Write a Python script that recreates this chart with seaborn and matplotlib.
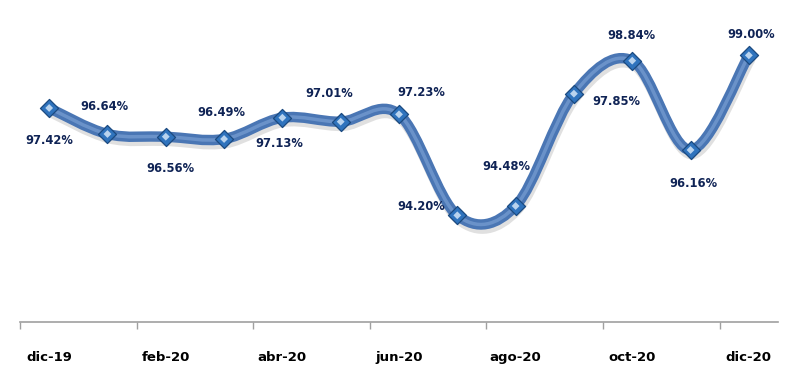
import numpy as np
import pandas as pd
import matplotlib
matplotlib.use("Agg")
import matplotlib.pyplot as plt
import matplotlib.patheffects as pe
from matplotlib.path import Path
from matplotlib.patches import PathPatch
import seaborn as sns

months = ["dic-19", "ene-20", "feb-20", "mar-20", "abr-20", "may-20", "jun-20",
          "jul-20", "ago-20", "sep-20", "oct-20", "nov-20", "dic-20"]
values = [97.42, 96.64, 96.56, 96.49, 97.13, 97.01, 97.23,
          94.20, 94.48, 97.85, 98.84, 96.16, 99.00]
labels = ["97.42%", "96.64%", "96.56%", "96.49%", "97.13%", "97.01%", "97.23%",
          "94.20%", "94.48%", "97.85%", "98.84%", "96.16%", "99.00%"]

sns.set_theme(style="white")
plt.rcParams['font.family'] = ['DejaVu Sans']

df = pd.DataFrame({"idx": np.arange(len(months)), "value": values, "month": months})

fig = plt.figure(figsize=(7.98, 3.76), dpi=100)
ax = fig.add_axes([20/798, 1-322/376, (778-20)/798, (322-22)/376])

# smooth curve (Catmull-Rom as cubic Bezier through the data points)
x = df["idx"].to_numpy(dtype=float)
y = df["value"].to_numpy(dtype=float)
n = len(x)
verts = [(x[0], y[0])]
codes = [Path.MOVETO]
for i in range(n - 1):
    p0 = (x[max(i-1, 0)], y[max(i-1, 0)])
    p1 = (x[i], y[i])
    p2 = (x[i+1], y[i+1])
    p3 = (x[min(i+2, n-1)], y[min(i+2, n-1)])
    c1 = (p1[0] + (p2[0]-p0[0])/6, p1[1] + (p2[1]-p0[1])/6)
    c2 = (p2[0] - (p3[0]-p1[0])/6, p2[1] - (p3[1]-p1[1])/6)
    verts += [c1, c2, p2]
    codes += [Path.CURVE4]*3
path = Path(verts, codes)
patch = PathPatch(path, fill=False, edgecolor="#4a76b4", linewidth=7.5,
                  capstyle="round", joinstyle="round", zorder=2,
                  path_effects=[pe.SimpleLineShadow(offset=(1, -3), shadow_color="#999999", alpha=0.3),
                                pe.Normal()])
ax.add_patch(patch)
patch2 = PathPatch(path, fill=False, edgecolor="#86aadb", linewidth=2.5, alpha=0.55, zorder=2.1)
ax.add_patch(patch2)

sns.scatterplot(data=df, x="idx", y="value", marker="D", s=85, color="#2f73bd",
                edgecolor="#1b4a80", linewidth=0.9, ax=ax, zorder=3, legend=False)
sns.scatterplot(data=df, x="idx", y="value", marker="D", s=16, color="#b9d3ee",
                edgecolor="none", ax=ax, zorder=4, legend=False)

offsets = [(0, -32), (-3, 27), (5, -32), (-3, 27), (-3, -26), (-11, 28), (22, 22),
           (-36, 9), (-9, 39), (42, -8), (-1, 25), (3, -33), (2, 21)]
for i, (lab, off) in enumerate(zip(labels, offsets)):
    ax.annotate(lab, (x[i], y[i]), xytext=off, textcoords="offset pixels",
                ha="center", va="center", fontsize=8.3, fontweight="bold", color="#0f2355")

ax.set_xlim(-0.5, 12.5)
ax.set_ylim(91, 100)
ax.set_yticks([])
ax.set_xticks(np.arange(0, 13, 2))
ax.set_xticklabels(months[::2], fontsize=9.5, fontweight="bold", color="black")
ax.set_xticks(np.arange(-0.5, 13, 2), minor=True)
ax.tick_params(axis="x", which="major", length=0, pad=21)
ax.tick_params(axis="x", which="minor", length=5, width=1, color="#a0a0a0", direction="out", bottom=True)
ax.set_xlabel("")
ax.set_ylabel("")
for s in ["top", "left", "right"]:
    ax.spines[s].set_visible(False)
ax.spines["bottom"].set_color("#a0a0a0")
ax.spines["bottom"].set_linewidth(1.2)
ax.set_facecolor("white")
fig.patch.set_facecolor("white")

fig.savefig("out.png", dpi=100)
